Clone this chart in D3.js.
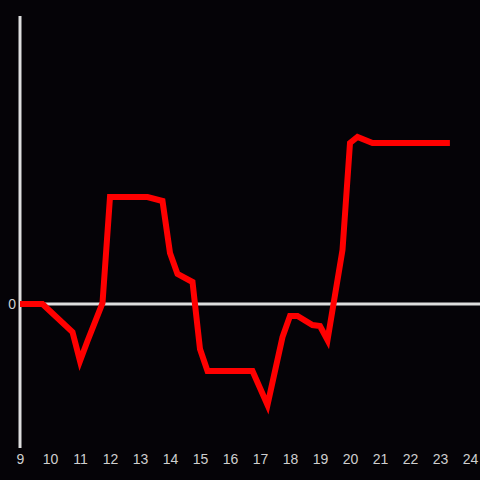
<!DOCTYPE html>
<html>
<head>
<meta charset="utf-8">
<script src="https://cdn.jsdelivr.net/npm/d3@7"></script>
<style>
  html, body { margin: 0; padding: 0; background: #050307; }
</style>
</head>
<body>
<div id="canvas"></div>
<script>
// hours of day and values (arbitrary units, 0 = baseline)
const hours = [9.0, 9.75, 10.75, 11.0, 11.25, 11.75, 12.0, 13.25, 13.75, 14.0, 14.25, 14.75,
    15.0, 15.25, 16.75, 17.25, 17.75, 18.0, 18.25, 18.75, 19.0, 19.25, 19.75, 20.0, 20.25, 20.75, 23.33];
const values = [0, 0, -28, -57, -37, 1, 107, 107, 103, 51, 30, 22,
    -45, -67, -67, -101, -33, -12, -12, -21, -22, -36, 54, 161, 167, 161, 161];
const xTicks = d3.range(9, 25);
const yTicks = [0];

const canvas = d3.select("#canvas");
const width = 480;
const height = 480;
const margin = { top: 16, left: 20, bottom: 32, right: 10 };
const iwidth = width - margin.left - margin.right;
const iheight = height - margin.top - margin.bottom;

const svg = canvas.append("svg")
    .attr("width", width)
    .attr("height", height)
    .style("background", "#050307");

let g = svg.append("g").attr("transform", `translate(${margin.left},${margin.top})`);

const x = d3.scaleLinear()
    .range([0, iwidth])
    .domain([9, 24]);

const y = d3.scaleLinear()
    .range([iheight, 0])
    .domain([-144, 288]);

const data = hours.map((h, i) => ({ h: h, v: values[i] }));

// zero line
g.append("line")
    .attr("x1", 0)
    .attr("x2", width - margin.left)
    .attr("y1", y(0))
    .attr("y2", y(0))
    .attr("stroke", "#dedede")
    .attr("stroke-width", 3);

// y axis line
g.append("line")
    .attr("x1", 0)
    .attr("x2", 0)
    .attr("y1", 0)
    .attr("y2", iheight)
    .attr("stroke", "#dedede")
    .attr("stroke-width", 3);

const xAxis = g.append("g")
    .classed("x--axis", true)
    .attr("transform", `translate(0, ${iheight})`)
    .call(d3.axisBottom(x).tickValues(xTicks).tickSize(0).tickPadding(6).tickFormat(d3.format("d")));
xAxis.select(".domain").remove();

const yAxis = g.append("g")
    .classed("y--axis", true)
    .call(d3.axisLeft(y).tickValues(yTicks).tickSize(0).tickPadding(4));
yAxis.select(".domain").remove();

svg.selectAll(".tick text")
    .attr("fill", "#cfcfcf")
    .style("font-family", "'Liberation Sans', Arial, sans-serif")
    .style("font-size", "14px");

const line = d3.line()
    .x(d => x(d.h))
    .y(d => y(d.v));

g.append("path")
    .datum(data)
    .attr("d", line)
    .attr("fill", "none")
    .attr("stroke", "#ff0000")
    .attr("stroke-width", 6)
    .attr("stroke-linejoin", "miter")
    .attr("stroke-linecap", "butt");
</script>
</body>
</html>
